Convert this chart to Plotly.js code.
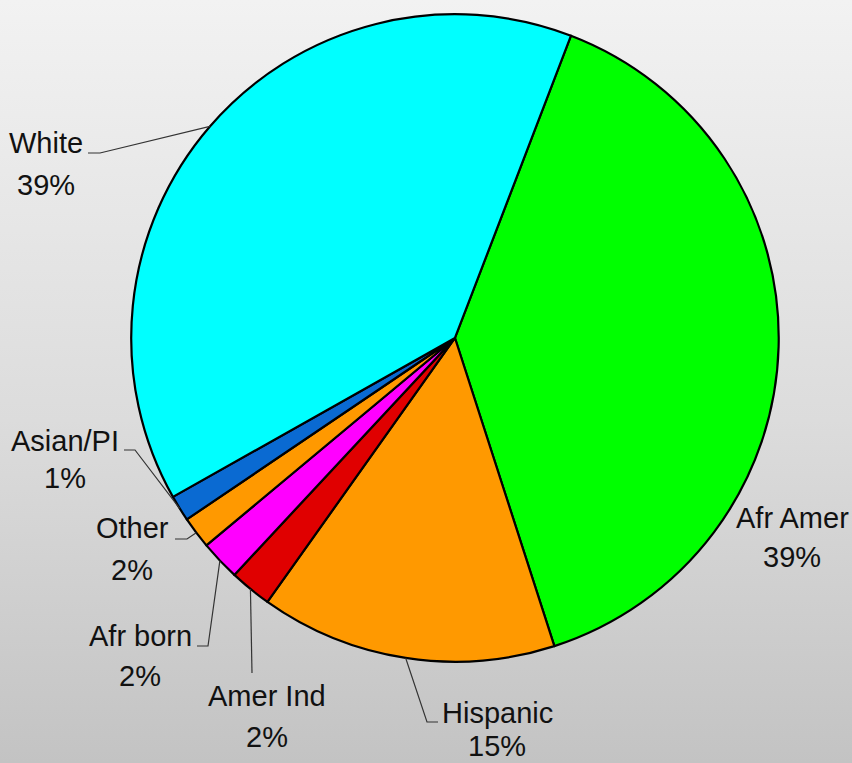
<!DOCTYPE html>
<html>
<head>
<meta charset="utf-8">
<script src="https://cdn.plot.ly/plotly-3.0.1.min.js"></script>
<style>
  html, body { margin: 0; padding: 0; }
  #chart { width: 852px; height: 763px; background: linear-gradient(to bottom, #f2f2f2 0%, #dcdcdc 55%, #c3c3c3 100%); }
</style>
</head>
<body>
<div id="chart"></div>
<script>
// ---- data ----
const categories = ["Afr Amer", "Hispanic", "Amer Ind", "Afr born", "Other", "Asian/PI", "White"];
const shares = [39.2, 14.8, 2.1, 2.0, 1.6, 1.3, 39.0];
const sliceColors = ["#00ff00", "#ff9900", "#e00000", "#ff00ff", "#ff9900", "#0a6ad2", "#00ffff"];

// ---- layout / style (not data) ----
const W = 852, H = 763;
const startAngle = 21; // clockwise from 12 o'clock
const domX = [0.154, 0.914], domY = [0.1324, 0.9817];
// label: centre x, name-line y, percent-line y (px); leader elbow (px); null = no leader
const labelCfg = {
  "White":    {x: 46,  y1: 143, y2: 185, line: [[88,153],[100,153]]},
  "Asian/PI": {x: 65,  y1: 441, y2: 478, line: [[124,450],[135,450]]},
  "Other":    {x: 132, y1: 528, y2: 570, line: [[175,539],[187,539]]},
  "Afr born": {x: 140, y1: 636, y2: 676, line: [[197,646],[208,646]]},
  "Amer Ind": {x: 267, y1: 696, y2: 737, line: [[252,673],[252,673]]},
  "Hispanic": {x: 497, y1: 713, y2: 746, line: [[438,722],[427,722]]},
  "Afr Amer": {x: 792, y1: 518, y2: 557, line: null}
};
const FONT = "'Liberation Sans', Arial, sans-serif";

const total = shares.reduce((a, b) => a + b, 0);
const cx = W * (domX[0] + domX[1]) / 2;
const cy = H * (1 - (domY[0] + domY[1]) / 2);
const R = Math.min(W * (domX[1] - domX[0]), H * (domY[1] - domY[0])) / 2;
const px = x => x / W, py = y => 1 - y / H;

const annotations = [], shapes = [];
let cum = 0;
categories.forEach((c, i) => {
  const span = shares[i] / total * 360;
  const mid = startAngle + cum + span / 2;
  cum += span;
  const cfg = labelCfg[c];
  const pct = Math.round(shares[i] / total * 100) + "%";
  [[c, cfg.y1], [pct, cfg.y2]].forEach(([txt, yy]) => {
    annotations.push({
      xref: "paper", yref: "paper", x: px(cfg.x), y: py(yy),
      xanchor: "center", yanchor: "middle", showarrow: false, align: "center",
      text: txt,
      font: {family: FONT, size: 29, color: "#111111"}
    });
  });
  if (cfg.line) {
    const t = mid * Math.PI / 180;
    const ex = cx + R * Math.sin(t), ey = cy - R * Math.cos(t);
    const p = [cfg.line[0], cfg.line[1], [ex, ey]];
    shapes.push({
      type: "path", xref: "paper", yref: "paper",
      path: "M" + p.map(q => px(q[0]) + "," + py(q[1])).join(" L"),
      line: {color: "#333333", width: 1.2}
    });
  }
});

const trace = {
  type: "pie",
  labels: categories,
  values: shares,
  sort: false,
  direction: "clockwise",
  rotation: startAngle,
  textinfo: "none",
  hoverinfo: "label+percent",
  marker: {colors: sliceColors, line: {color: "#000000", width: 2.2}},
  domain: {x: domX, y: domY},
  showlegend: false
};

const layout = {
  width: W, height: H,
  margin: {l: 0, r: 0, t: 0, b: 0},
  paper_bgcolor: "rgba(0,0,0,0)",
  plot_bgcolor: "rgba(0,0,0,0)",
  showlegend: false,
  annotations: annotations,
  shapes: shapes
};

Plotly.newPlot("chart", [trace], layout, {displayModeBar: false, staticPlot: true});
</script>
</body>
</html>
